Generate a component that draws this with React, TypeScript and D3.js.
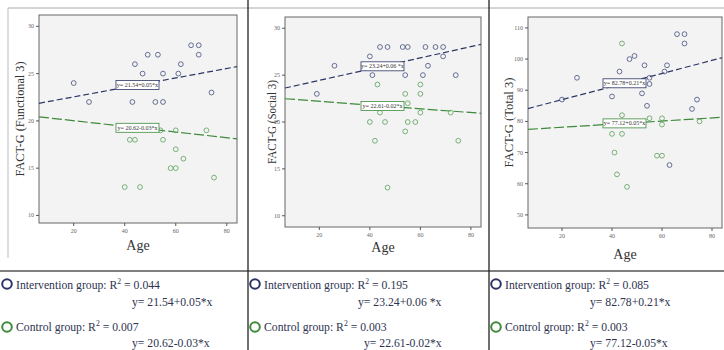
import React from 'react';
import * as d3 from 'd3';

// ages on x, scores on y
const ageTicks = [20, 40, 60, 80];
const functionalTicks = [10, 15, 20, 25, 30];
const socialTicks = [10, 15, 20, 25, 30];
const totalTicks = [50, 60, 70, 80, 90, 100, 110];

const functionalIntervention: [number, number][] = [
  [20, 24], [26, 22], [43, 22], [44, 26], [47, 25], [49, 27], [52, 22], [53, 27],
  [55, 25], [55, 22], [61, 25], [62, 26], [66, 28], [69, 28], [69, 27], [74, 23],
];
const functionalControl: [number, number][] = [
  [40, 13], [42, 18], [44, 18], [46, 13], [54, 19], [55, 18], [58, 15], [60, 19],
  [60, 17], [60, 15], [63, 16], [72, 19], [75, 14],
];

const socialIntervention: [number, number][] = [
  [19, 23], [26, 26], [40, 27], [44, 28], [47, 28], [53, 28], [55, 28], [62, 28],
  [66, 28], [69, 28], [69, 27], [63, 26], [41, 25], [54, 25], [61, 25], [74, 25],
];
const socialControl: [number, number][] = [
  [43, 24], [54, 23], [60, 24], [60, 23], [55, 22], [44, 21], [60, 21], [72, 21],
  [40, 20], [46, 20], [55, 20], [58, 20], [54, 19], [42, 18], [75, 18], [47, 13],
];

const totalIntervention: [number, number][] = [
  [20, 87], [26, 94], [40, 88], [43, 96], [47, 100], [49, 101], [52, 89], [53, 98],
  [54, 85], [55, 94], [55, 92], [61, 96], [62, 98], [66, 108], [69, 108], [69, 105],
  [72, 84], [74, 87], [63, 66],
];
const totalControl: [number, number][] = [
  [44, 105], [44, 82], [40, 76], [44, 76], [41, 70], [42, 63], [46, 59], [55, 81],
  [60, 81], [60, 79], [58, 69], [60, 69], [75, 80],
];

const yTitles = ['FACT-G (Functional 3)', 'FACT-G (Social 3)', 'FACT-G (Total 3)'];
// fitted lines as drawn in the plots
const interventionFit = [[21.54, 0.05], [23.24, 0.06], [82.78, 0.21]];
const controlFit = [[20.62, -0.03], [22.61, -0.02], [77.12, 0.05]];
const interventionR2 = ['0.044', '0.195', '0.085'];
const controlR2 = ['0.007', '0.003', '0.003'];
const interventionEq = ['y= 21.54+0.05*x', 'y= 23.24+0.06 *x', 'y= 82.78+0.21*x'];
const controlEq = ['y= 20.62-0.03*x', 'y= 22.61-0.02*x', 'y= 77.12-0.05*x'];
const plotControlEq = ['y= 20.62-0.03*x', 'y= 22.61-0.02*x', 'y= 77.12+0.05*x'];

const W = 724;
const H = 350;
const INT = '#2c3566';
const CTL = '#3d8a3a';
const INT_PT = '#56608a';
const CTL_PT = '#6aa86a';
const TEXT = '#2e3350';
const serif = '"Liberation Serif", "DejaVu Serif", serif';

const layout = [
  { left: 39, right: 237, top: 15, bottom: 223, yDomain: [9.2, 31.2], titleX: 19, titleLen: 115, ageY: 250, cellX: 0, eqX: 132 },
  { left: 285, right: 481, top: 17, bottom: 227, yDomain: [8.8, 31.2], titleX: 271, titleLen: 84, ageY: 252, cellX: 248, eqX: 358 },
  { left: 528, right: 722, top: 17, bottom: 228, yDomain: [45.8, 113.5], titleX: 508, titleLen: 90, ageY: 259, cellX: 489, eqX: 590 },
];

const panels = [
  { ticks: functionalTicks, int: functionalIntervention, ctl: functionalControl },
  { ticks: socialTicks, int: socialIntervention, ctl: socialControl },
  { ticks: totalTicks, int: totalIntervention, ctl: totalControl },
];

function Panel({ i }: { i: number }) {
  const L = layout[i];
  const P = panels[i];
  const x = d3.scaleLinear().domain([6.4, 84]).range([L.left, L.right]);
  const y = d3.scaleLinear().domain(L.yDomain).range([L.bottom, L.top]);
  const fitLine = (f: number[]) =>
    d3.line<number>().x(a => x(a)).y(a => y(f[0] + f[1] * a))(x.domain());
  const midY = (L.top + L.bottom) / 2;
  const box = (f: number[], label: string, color: string) => {
    const cx = x(45);
    const cy = y(f[0] + f[1] * 45);
    return (
      <g>
        <rect x={cx - 21.5} y={cy - 4.5} width={43} height={9} fill="#fff" stroke={color} strokeWidth={0.8} />
        <text x={cx} y={cy + 2} fontSize={6} textAnchor="middle" fill="#333" fontFamily={serif}>{label}</text>
      </g>
    );
  };
  return (
    <g>
      <rect x={L.left} y={L.top} width={L.right - L.left} height={L.bottom - L.top} fill="#f3f3f3" stroke="#666" strokeWidth={1} />
      {P.ticks.map(t => (
        <g key={'y' + t}>
          <line x1={L.left - 3} x2={L.left} y1={y(t)} y2={y(t)} stroke="#555" />
          <text x={L.left - 5} y={y(t) + 2} fontSize={6} textAnchor="end" fill="#666" fontFamily={serif}>{t}</text>
        </g>
      ))}
      {ageTicks.map(t => (
        <g key={'x' + t}>
          <line x1={x(t)} x2={x(t)} y1={L.bottom} y2={L.bottom + 3} stroke="#555" />
          <text x={x(t)} y={L.bottom + 10} fontSize={6} textAnchor="middle" fill="#666" fontFamily={serif}>{t}</text>
        </g>
      ))}
      <path d={fitLine(interventionFit[i]) || ''} fill="none" stroke={INT} strokeWidth={1.2} strokeDasharray="6,3" />
      <path d={fitLine(controlFit[i]) || ''} fill="none" stroke={CTL} strokeWidth={1.2} strokeDasharray="10,3" />
      {P.int.map((d, k) => (
        <circle key={'i' + k} cx={x(d[0])} cy={y(d[1])} r={2.4} fill="none" stroke={INT_PT} strokeWidth={0.9} />
      ))}
      {P.ctl.map((d, k) => (
        <circle key={'c' + k} cx={x(d[0])} cy={y(d[1])} r={2.4} fill="none" stroke={CTL_PT} strokeWidth={0.9} />
      ))}
      {box(interventionFit[i], interventionEq[i], INT)}
      {box(controlFit[i], plotControlEq[i], CTL)}
      <text
        transform={`translate(${L.titleX},${midY}) rotate(-90)`}
        textAnchor="middle" dominantBaseline="central" fontSize={13} fill="#333"
        fontFamily={serif} textLength={L.titleLen} lengthAdjust="spacingAndGlyphs"
      >{yTitles[i]}</text>
      <text x={(L.left + L.right) / 2} y={L.ageY} textAnchor="middle" fontSize={14} fill="#333" fontFamily={serif}>Age</text>
    </g>
  );
}

function Legend({ i }: { i: number }) {
  const L = layout[i];
  const cx = L.cellX + 7;
  const tx = L.cellX + 16;
  const sx = 0.9;
  return (
    <g fontFamily={serif} fill={TEXT} fontSize={13}>
      <circle cx={cx} cy={284} r={4.8} fill="none" stroke={INT} strokeWidth={2} />
      <g transform={`translate(${tx},289) scale(${sx},1)`}>
        <text>Intervention group: R<tspan fontSize={8.5} dy={-5}>2</tspan><tspan dy={5}> = {interventionR2[i]}</tspan></text>
      </g>
      <g transform={`translate(${L.eqX},306) scale(${sx},1)`}>
        <text>{interventionEq[i]}</text>
      </g>
      <circle cx={cx} cy={327} r={4.8} fill="none" stroke={CTL} strokeWidth={2} />
      <g transform={`translate(${tx},331) scale(${sx},1)`}>
        <text>Control group: R<tspan fontSize={8.5} dy={-5}>2</tspan><tspan dy={5}> = {controlR2[i]}</tspan></text>
      </g>
      <g transform={`translate(${L.eqX + (i === 1 ? 6 : 0)},347) scale(${sx},1)`}>
        <text>{controlEq[i]}</text>
      </g>
    </g>
  );
}

export default function App() {
  return (
    <svg width={W} height={H} style={{ position: 'absolute', left: 0, top: 0, background: '#fff' }}>
      <rect width={W} height={H} fill="#fff" />
      <line x1={8} x2={W} y1={8} y2={8} stroke="#aaa" />
      <line x1={8} x2={8} y1={8} y2={258} stroke="#bbb" />
      {[0, 1, 2].map(i => <Panel key={i} i={i} />)}
      <line x1={0} x2={W} y1={271} y2={271} stroke="#555" strokeWidth={1.5} />
      <line x1={248} x2={248} y1={0} y2={H} stroke="#222" strokeWidth={1.3} />
      <line x1={489} x2={489} y1={0} y2={H} stroke="#222" strokeWidth={1.3} />
      {[0, 1, 2].map(i => <Legend key={i} i={i} />)}
    </svg>
  );
}
